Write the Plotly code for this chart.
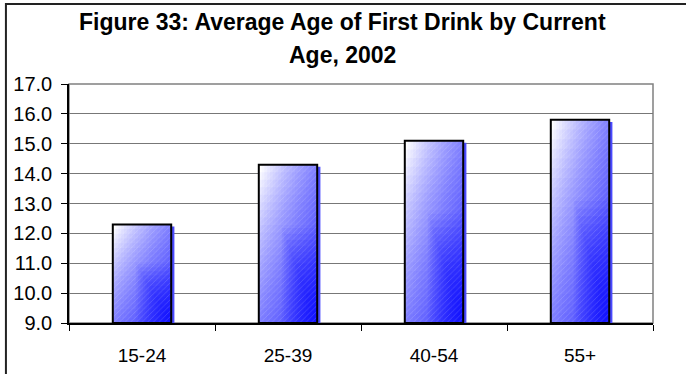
import plotly.graph_objects as go

# data
age_groups = ["15-24", "25-39", "40-54", "55+"]
avg_first_drink = [12.3, 14.3, 15.1, 15.8]
y_ticks = [9, 10, 11, 12, 13, 14, 15, 16, 17]
title_lines = ["Figure 33: Average Age of First Drink by Current", "Age, 2002"]

FONT = "Arial, Liberation Sans, sans-serif"
BASE = 9.0
BAR_W = 0.4
BLUE = "rgba(0,0,255,{a})"

heights = [v - BASE for v in avg_first_drink]


def layer(y, offset, width, color):
    return go.Bar(
        x=age_groups, y=y, base=BASE, offset=offset, width=width,
        marker=dict(color=color, line=dict(width=0)),
        hoverinfo="skip", showlegend=False,
    )


fig = go.Figure()

# drop shadow, a little to the right and down
fig.add_trace(layer([h - 0.07 for h in heights], -BAR_W / 2 + 0.022, BAR_W, "#4a4aff"))

# white base of the bar
fig.add_trace(layer(heights, -BAR_W / 2, BAR_W, "white"))

# fake diagonal gradient: columns get bluer to the right ...
n_cols = 20
for i in range(1, n_cols + 1):
    left = -BAR_W / 2 + i * BAR_W / (n_cols + 1)
    fig.add_trace(layer(heights, left, BAR_W / 2 - left, BLUE.format(a=0.03)))

# ... rows get bluer towards the bottom ...
n_rows = 20
for j in range(1, n_rows + 1):
    frac = 1 - j / (n_rows + 1)
    fig.add_trace(layer([h * frac for h in heights], -BAR_W / 2, BAR_W, BLUE.format(a=0.03)))

# ... and the bottom-right corner goes deep blue
n_corner = 16
for k in range(n_corner):
    s = 0.6 * (1 - k / n_corner)
    fig.add_trace(layer([h * s for h in heights], BAR_W / 2 - BAR_W * s, BAR_W * s, BLUE.format(a=0.06)))

# faint hatching + black outline
fig.add_trace(go.Bar(
    x=age_groups, y=heights, base=BASE,
    offset=-BAR_W / 2, width=BAR_W,
    marker=dict(
        color="rgba(0,0,0,0)",
        line=dict(color="black", width=2),
        pattern=dict(shape="/", fgcolor="white", fgopacity=0.25, size=4, solidity=0.15, fillmode="overlay"),
    ),
    customdata=avg_first_drink,
    hovertemplate="%{x}: %{customdata:.1f}<extra></extra>",
    showlegend=False,
))

fig.update_layout(
    width=686, height=374,
    barmode="overlay",
    plot_bgcolor="white", paper_bgcolor="white",
    margin=dict(l=69, r=33, t=84, b=51),
    font=dict(family=FONT, color="black", size=19),
    xaxis=dict(
        type="category", range=[-0.5, 3.5], automargin=False,
        showline=True, linecolor="black", linewidth=1.5,
        ticks="outside", tickson="boundaries", ticklen=6, tickcolor="black",
        ticklabelstandoff=14,
        showgrid=False, tickfont=dict(size=19),
    ),
    yaxis=dict(
        range=[9, 17], tickvals=y_ticks, tickformat=".1f", automargin=False,
        showline=True, linecolor="black", linewidth=1.5,
        ticks="outside", ticklen=6, tickcolor="black",
        ticklabelstandoff=5,
        showgrid=True, gridcolor="#777777", gridwidth=1,
        zeroline=False, tickfont=dict(size=20),
    ),
    shapes=[
        # gray border of the plot area
        dict(type="rect", xref="paper", yref="paper", x0=0, x1=1, y0=0, y1=1,
             line=dict(color="#808080", width=1.5), layer="below"),
        # outer chart frame (right and bottom lie outside the picture)
        dict(type="rect", xref="paper", yref="paper", x0=-0.108, x1=1.2, y0=-0.4, y1=1.335,
             line=dict(color="#222222", width=2), layer="below"),
    ],
    annotations=[
        dict(text=f"<b>{title_lines[0]}</b>", xref="paper", yref="paper",
             x=0.469, y=1.258, xanchor="center", yanchor="middle", showarrow=False,
             font=dict(family=FONT, size=23, color="black")),
        dict(text=f"<b>{title_lines[1]}</b>", xref="paper", yref="paper",
             x=0.469, y=1.121, xanchor="center", yanchor="middle", showarrow=False,
             font=dict(family=FONT, size=23, color="black")),
    ],
)

fig.write_html(
    "out.html",
    config={"displayModeBar": False},
    post_script="document.body.style.margin='0px';",
)
